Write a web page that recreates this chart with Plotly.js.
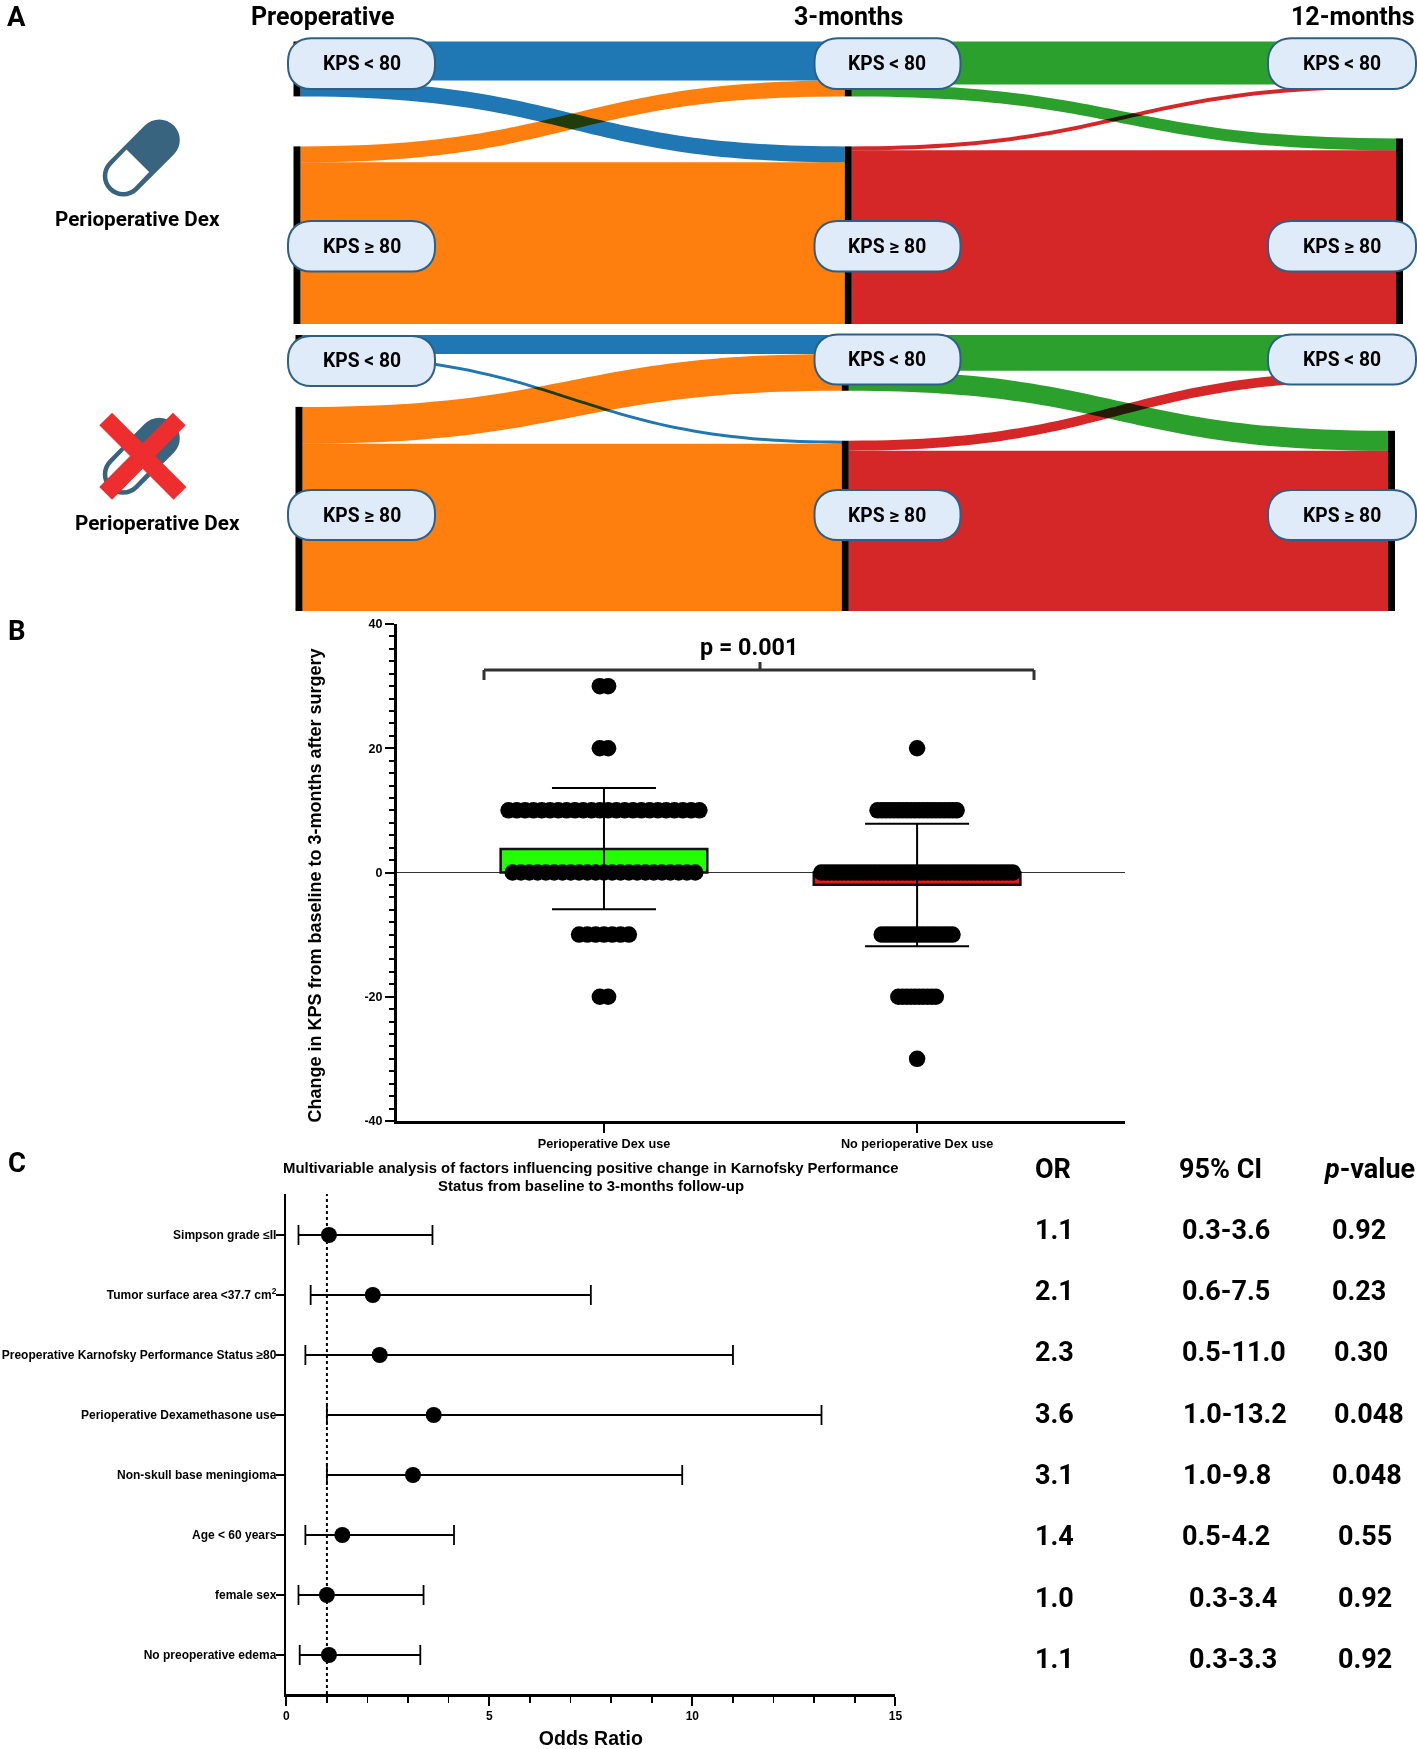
<!DOCTYPE html>
<html><head><meta charset="utf-8">
<script src="https://cdn.plot.ly/plotly-3.0.1.min.js"></script>
<style>html,body{margin:0;padding:0;background:#fff}.sankey-link{mix-blend-mode:multiply}</style>
</head><body><div id="chart" style="width:1417px;height:1749px"></div>
<script>
const W=1417,H=1749;
// ---- Panel A data
const stateNodes=['KPS < 80','KPS ≥ 80','KPS < 80','KPS ≥ 80','KPS < 80','KPS ≥ 80'];
const linkSource=[0,0,1,1,2,2,3,3];
const linkTarget=[2,3,2,3,4,5,4,5];
const linkColors=['#1f77b4','#1f77b4','#ff7f0e','#ff7f0e','#2ca02c','#2ca02c','#d62728','#d62728'];
const dexFlows=[39,16,16,162,43,12,4,174];
const noDexFlows=[19,3,37,168,36,20,10,161];
const stageLabels=['Preoperative','3-months','12-months'];
// ---- Panel B data
const kpsChangeLevels=[30,20,10,0,-10,-20,-30];
const dexCounts=[2,2,24,23,7,2,0];
const noDexCounts=[0,1,20,47,18,10,1];
const groupNames=['Perioperative Dex use','No perioperative Dex use'];
const groupMeans=[3.8,-1.96];
const sdUp=[9.8,9.8];
const sdDown=[9.7,9.9];
const yTickVals=[-40,-20,0,20,40];
const yTickText=['-40','-20','0','20','40'];
// ---- Panel C data
const factorNames=['Simpson grade ≤II','Tumor surface area <37.7 cm<sup>2</sup>','Preoperative Karnofsky Performance Status ≥80','Perioperative Dexamethasone use','Non-skull base meningioma','Age < 60 years','female sex','No preoperative edema'];
const oddsRatio=[1.05,2.13,2.3,3.63,3.12,1.38,1.0,1.05];
const ciLow=[0.3,0.6,0.47,1.0,1.0,0.47,0.3,0.33];
const ciHigh=[3.6,7.5,11.0,13.18,9.75,4.13,3.38,3.3];
const orText=['1.1','2.1','2.3','3.6','3.1','1.4','1.0','1.1'];
const ciText=['0.3-3.6','0.6-7.5','0.5-11.0','1.0-13.2','1.0-9.8','0.5-4.2','0.3-3.4','0.3-3.3'];
const pText=['0.92','0.23','0.30','0.048','0.048','0.55','0.92','0.92'];

const px=x=>x/W, py=y=>1-y/H;
const SANS='"Liberation Sans",Arial,sans-serif', ROB='Roboto,sans-serif';
const pt=(x,y)=>px(x)+','+py(y);
function ann(text,x,y,size,family,anchor,extra){return Object.assign({text:text,xref:'paper',yref:'paper',x:px(x),y:py(y),xanchor:anchor||'center',yanchor:'middle',showarrow:false,font:{size:size,family:family||ROB,color:'#000',weight:700}},extra||{});}

function sankeyTrace(flows,x0,x1,y0,y1){
  const thick=7,pad=50,w=x1-x0,h=y1-y0;
  const total=flows.reduce((a,b)=>a+b,0)/2, ky=(h-pad)/total;
  // column sums -> fix the "< 80" node on top and the ">= 80" node on the bottom of each column
  const nodeSum=stateNodes.map((_,i)=>{let a=0,b=0;linkSource.forEach((s,k)=>{if(s===i)a+=flows[k];if(linkTarget[k]===i)b+=flows[k];});return Math.max(a,b);});
  const nx=[0,0,1,1,2,2].map(c=>c===0?thick/2/w:(c===1?0.5:1-thick/2/w));
  const ny=nodeSum.map((v,i)=>i%2===0?(v*ky/2)/h:(h-v*ky/2)/h);
  return {type:'sankey',arrangement:'fixed',domain:{x:[px(x0),px(x1)],y:[py(y1),py(y0)]},
  node:{label:stateNodes.map(()=>''),pad:pad,thickness:thick,color:'#000',line:{width:0},hoverinfo:'skip',x:nx,y:ny},
  link:{source:linkSource,target:linkTarget,value:flows,color:linkColors,hoverinfo:'skip'}};}

// swarm helper: lays each level's dots side by side around the group centre
function swarm(center,counts,stepUnits){const xs=[],ys=[];counts.forEach((n,i)=>{for(let k=0;k<n;k++){xs.push(center+(k-(n-1)/2)*stepUnits);ys.push(kpsChangeLevels[i]);}});return {xs,ys};}
const s1=swarm(0,dexCounts,0.0265), s2=swarm(1,noDexCounts,0.0133);

const data=[
 sankeyTrace(dexFlows,293.5,1403,41.5,324),
 sankeyTrace(noDexFlows,295.5,1395,335,611),
 {type:'bar',x:[0,1],y:groupMeans,width:0.66,xaxis:'x',yaxis:'y',marker:{color:['#22ff00','#e01b1b'],line:{color:'#111',width:2.5}},
  error_y:{type:'data',symmetric:false,array:sdUp,arrayminus:sdDown,color:'#000',thickness:2,width:52},hoverinfo:'skip',showlegend:false},
 {type:'scatter',mode:'markers',x:s1.xs.concat(s2.xs),y:s1.ys.concat(s2.ys),xaxis:'x',yaxis:'y',marker:{color:'#000',size:16.5},hoverinfo:'skip',showlegend:false},
 {type:'scatter',mode:'markers',x:oddsRatio,y:factorNames.map((_,i)=>i),xaxis:'x2',yaxis:'y2',marker:{color:'#000',size:16},
  error_x:{type:'data',symmetric:false,array:ciHigh.map((v,i)=>v-oddsRatio[i]),arrayminus:oddsRatio.map((v,i)=>v-ciLow[i]),color:'#000',thickness:1.8,width:10},hoverinfo:'skip',showlegend:false}
];

// ---- decorations
const shapes=[];
function pill(x0,x1,y0,y1){const r=23,k=r*0.4;
 shapes.push({type:'path',xref:'paper',yref:'paper',layer:'above',fillcolor:'#dfebf8',line:{color:'#2c6089',width:2},
 path:'M'+pt(x0+r,y0)+' L'+pt(x1-r,y0)+' C'+pt(x1-k,y0)+' '+pt(x1,y0+k)+' '+pt(x1,y0+r)+' L'+pt(x1,y1-r)+' C'+pt(x1,y1-k)+' '+pt(x1-k,y1)+' '+pt(x1-r,y1)+' L'+pt(x0+r,y1)+' C'+pt(x0+k,y1)+' '+pt(x0,y1-k)+' '+pt(x0,y1-r)+' L'+pt(x0,y0+r)+' C'+pt(x0,y0+k)+' '+pt(x0+k,y0)+' '+pt(x0+r,y0)+' Z'});}
const pillCols=[[288,435],[814.5,960.5],[1268,1416]];
const pillRows=[[[38.3,89],[38.3,89],[38.3,89]],[[221,271.5],[221,271.5],[221,271.5]],[[336,386],[334.5,384.5],[334.5,384.5]],[[490,540],[490,540],[490,540]]];
const annotations=[];
pillRows.forEach((row,r)=>row.forEach((yy,c)=>{pill(pillCols[c][0],pillCols[c][1],yy[0],yy[1]);
  annotations.push(ann(stateNodes[r%2===0?0:1],(pillCols[c][0]+pillCols[c][1])/2,(yy[0]+yy[1])/2,19.3));}));

// capsule icon built from cubic arcs
function arc(cx,cy,r,a0,a1){const k=4/3*Math.tan((a1-a0)/4);const c0=Math.cos(a0),s0=Math.sin(a0),c1=Math.cos(a1),s1=Math.sin(a1);
 return ' C'+pt(cx+r*(c0-k*s0),cy+r*(s0+k*c0))+' '+pt(cx+r*(c1+k*s1),cy+r*(s1-k*c1))+' '+pt(cx+r*c1,cy+r*s1);}
function capsule(dy){
 const a={x:159.3,y:140+dy},b={x:123.3,y:176+dy},R=20.5,q=Math.PI/4,P=Math.PI/2;
 const color='#386480';
 let p='M'+pt(a.x+R*Math.cos(q),a.y+R*Math.sin(q))+arc(a.x,a.y,R,q,q-P)+arc(a.x,a.y,R,q-P,q-2*P)
   +' L'+pt(b.x+R*Math.cos(q-2*P),b.y+R*Math.sin(q-2*P))+arc(b.x,b.y,R,q-2*P,q-3*P)+arc(b.x,b.y,R,q-3*P,q-4*P)+' Z';
 shapes.push({type:'path',xref:'paper',yref:'paper',layer:'above',fillcolor:color,line:{width:0},path:p});
 const r=16,cx=137.8,cy=160.8+dy,nx=Math.cos(q),ny=Math.sin(q);
 let w='M'+pt(cx+r*nx,cy+r*ny)+' L'+pt(b.x+r*nx,b.y+r*ny)+arc(b.x,b.y,r,q,q+P)+arc(b.x,b.y,r,q+P,q+2*P)+' L'+pt(cx-r*nx,cy-r*ny)+' Z';
 shapes.push({type:'path',xref:'paper',yref:'paper',layer:'above',fillcolor:'#fff',line:{width:0},path:w});
}
capsule(0); capsule(298.3);
[[105.7,419,180,493.3],[179.3,419,105.7,493.3]].forEach(l=>shapes.push({type:'line',xref:'paper',yref:'paper',layer:'above',x0:px(l[0]),y0:py(l[1]),x1:px(l[2]),y1:py(l[3]),line:{color:'#ee2e2e',width:18}}));

// significance bracket
[[484,680,484,670],[484,670,1034,670],[1034,670,1034,680],[760,670,760,662]].forEach(l=>shapes.push({type:'line',xref:'paper',yref:'paper',x0:px(l[0]),y0:py(l[1]),x1:px(l[2]),y1:py(l[3]),line:{color:'#333',width:3}}));
// OR = 1 reference
shapes.push({type:'line',xref:'x2',yref:'y2 domain',x0:1,x1:1,y0:0,y1:1,line:{color:'#000',width:2,dash:'dot'}});

stageLabels.forEach((t,i)=>annotations.push(ann(t,[322.5,848.5,1352.5][i],16.5,25)));
annotations.push(ann('A',16,16,27.5),ann('B',17,630.5,27.5),ann('C',17,1162,27.5));
annotations.push(ann('Perioperative Dex',137.7,219,20.7),ann('Perioperative Dex',157.3,523.3,20.7));
annotations.push(ann('p = 0.001',749.5,647,23.3));
annotations.push(ann('Multivariable analysis of factors influencing positive change in Karnofsky Performance',590.5,1167.5,14.9,SANS),
                 ann('Status from baseline to 3-months follow-up',590.5,1185.5,14.9,SANS));
annotations.push(ann('Change in KPS from baseline to 3-months after surgery',314,885.5,18,SANS,'center',{textangle:-90}));
// right-hand table
const tY=[1229.9,1291.2,1352,1413.8,1475,1536.4,1597.6,1659];
const ciX=[1180,1180,1180,1180.6,1180.6,1180,1186.6,1186.6];
const pX=[1329.6,1329.6,1331.6,1331.6,1329.6,1336.3,1336.3,1336.3];
annotations.push(ann('OR',1033.1,1169,27,ROB,'left'),ann('95% CI',1177.3,1169,27,ROB,'left'),ann('<i>p</i>-value',1321.8,1169,27,ROB,'left'));
tY.forEach((y,i)=>{annotations.push(ann(orText[i],1033.1,y,27,ROB,'left'),ann(ciText[i],ciX[i],y,27,ROB,'left'),ann(pText[i],pX[i],y,27,ROB,'left'));});

const tickFont={family:SANS,size:12,color:'#000',weight:700};
const layout={width:W,height:H,margin:{l:0,r:0,t:0,b:0},paper_bgcolor:'#fff',plot_bgcolor:'rgba(0,0,0,0)',showlegend:false,
 xaxis:{domain:[px(397),px(1125)],range:[-0.661,1.664],anchor:'y',tickvals:[0,1],ticktext:groupNames,ticks:'outside',ticklen:9,tickwidth:2,tickcolor:'#000',showline:true,linecolor:'#000',linewidth:3,showgrid:false,zeroline:false,tickfont:{family:SANS,size:12.7,color:'#000',weight:700},fixedrange:true},
 yaxis:{domain:[py(1121),py(624)],range:[-40,40],anchor:'x',tickvals:yTickVals,ticktext:yTickText,ticks:'outside',ticklen:9,tickwidth:2,tickcolor:'#000',showline:true,linecolor:'#000',linewidth:3,showgrid:false,zeroline:true,zerolinecolor:'#333',zerolinewidth:1,tickfont:{family:SANS,size:12.5,color:'#000',weight:700},
   minor:{dtick:2,ticks:'outside',ticklen:5,tickwidth:2,tickcolor:'#000',showgrid:false},fixedrange:true},
 xaxis2:{domain:[px(286.3),px(895.4)],range:[0,15],anchor:'y2',dtick:5,ticks:'outside',ticklen:9,tickwidth:2,tickcolor:'#000',showline:true,linecolor:'#000',linewidth:2.5,showgrid:false,zeroline:false,tickfont:tickFont,
   minor:{dtick:1,ticks:'outside',ticklen:6,tickwidth:1.5,tickcolor:'#000',showgrid:false},
   title:{text:'Odds Ratio',font:{family:SANS,size:19.5,color:'#000',weight:700},standoff:20},fixedrange:true},
 yaxis2:{domain:[py(1694),py(1194)],range:[7.65,-0.683],anchor:'x2',tickvals:factorNames.map((_,i)=>i),ticktext:factorNames,ticks:'outside',ticklen:8,tickwidth:2,tickcolor:'#000',ticklabelstandoff:-3,showline:true,linecolor:'#000',linewidth:2.5,showgrid:false,zeroline:false,tickfont:tickFont,fixedrange:true},
 shapes:shapes,annotations:annotations};

Plotly.newPlot('chart',data,layout,{displayModeBar:false,staticPlot:true}).then(()=>{
  // bring the pills and labels above the flow diagrams
  const svg=document.querySelector('.main-svg');
  const above=svg.querySelector('.layer-above');
  svg.querySelectorAll('.sankey').forEach(g=>svg.insertBefore(g,above));
  svg.querySelectorAll('text').forEach(t=>{if(!t.textContent.trim())t.remove();});
});
</script></body></html>
